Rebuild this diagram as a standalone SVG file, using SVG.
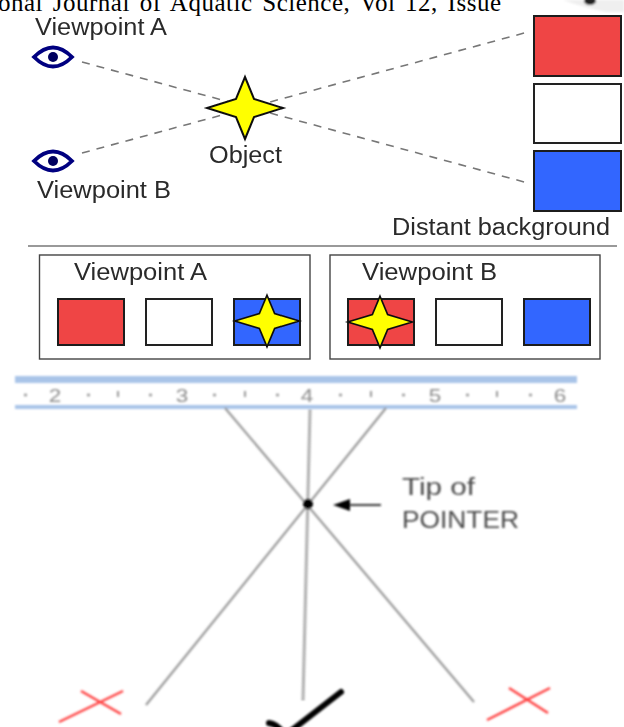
<svg xmlns="http://www.w3.org/2000/svg" width="624" height="727" viewBox="0 0 624 727">
<style>
.s{font-family:"Liberation Sans",Arial,sans-serif;fill:#2b2b2b;font-size:23px}
.p{font-family:"Liberation Sans",Arial,sans-serif;fill:#4a4a4a;font-size:23px}
.dash{fill:none;stroke:#777;stroke-width:1.6;stroke-dasharray:8 7}
.gl{fill:none;stroke:#999;stroke-width:2.200}
.r{fill:#ef4444;stroke:#1a1a1a;stroke-width:2}
.w{fill:#fff;stroke:#222;stroke-width:2}
.b{fill:#3366ff;stroke:#1a1a1a;stroke-width:2}
.box{fill:#fff;stroke:#444;stroke-width:1.4}
.star{fill:#ffff00;stroke:#111;stroke-width:2}
.eye{fill:#fff;stroke:#000080;stroke-width:3.8}
.ru{font-family:"Liberation Sans",Arial,sans-serif;fill:#8c8c8c;font-size:18px;text-anchor:middle}
.x{stroke:#ff4040;stroke-width:2.400;fill:none}
</style>
<defs>
<filter id="bl" x="-5%" y="-5%" width="110%" height="110%"><feGaussianBlur stdDeviation="0.55"/></filter>
<filter id="bl2" x="-5%" y="-5%" width="110%" height="110%"><feGaussianBlur stdDeviation="0.9"/></filter>
<path id="st" d="M0-31 9-9 38 0 9 9 0 31-9 9-38 0-9-9Z"/>
</defs>
<rect width="624" height="727" fill="#fff"/>
<text id="header" x="-2" y="11" font-family="'Liberation Serif','Times New Roman',serif" font-size="25px" textLength="503" lengthAdjust="spacing" word-spacing="3" fill="#000">onal Journal of Aquatic Science, Vol 12, Issue</text>
<g id="corner" filter="url(#bl2)"><path d="M563 0H624V12H606Q585 8 563 0Z" fill="#efefef"/><ellipse cx="590" cy="1" rx="6" ry="4" fill="#222"/></g>
<g filter="url(#bl)">
<g id="connectors"><path class="dash" d="M82 62 528 183"/><path class="dash" d="M82 153 528 32"/></g>
<g id="viewpoint-a"><text class="s" x="35" y="35" textLength="132" lengthAdjust="spacingAndGlyphs">Viewpoint A</text><path class="eye" d="M34 57Q53 38 72 57 53 76 34 57Z"/><circle cx="53" cy="57" r="5" fill="#000060"/></g>
<g id="viewpoint-b"><text class="s" x="37" y="198" textLength="134" lengthAdjust="spacingAndGlyphs">Viewpoint B</text><path class="eye" d="M34 161Q53 142 72 161 53 180 34 161Z"/><circle cx="53" cy="161" r="5" fill="#000060"/></g>
<g id="object"><use href="#st" class="star" transform="translate(245 108)"/><text class="s" x="209" y="163" textLength="73" lengthAdjust="spacingAndGlyphs">Object</text></g>
<g id="background"><rect class="r" x="534" y="16" width="87" height="60"/><rect class="w" x="534" y="84" width="87" height="59"/><rect class="b" x="534" y="151" width="87" height="60"/><text class="s" x="392" y="235" textLength="218" lengthAdjust="spacingAndGlyphs">Distant background</text></g>
<path d="M28 246H617" stroke="#777" stroke-width="1.6"/>
<g id="panel-a"><rect class="box" x="39.500" y="255" width="270.500" height="104"/><text class="s" x="74" y="280" textLength="133" lengthAdjust="spacingAndGlyphs">Viewpoint A</text><rect class="r" x="58" y="299" width="66" height="46"/><rect class="w" x="146" y="299" width="66" height="46"/><rect class="b" x="234" y="299" width="66" height="46"/><use href="#st" class="star" transform="translate(267 321) scale(.85 .83)"/></g>
<g id="panel-b"><rect class="box" x="330" y="255" width="270" height="104"/><text class="s" x="362" y="280" textLength="135" lengthAdjust="spacingAndGlyphs">Viewpoint B</text><rect class="r" x="348" y="299" width="66" height="46"/><rect class="w" x="436" y="299" width="66" height="46"/><rect class="b" x="524" y="299" width="66" height="46"/><use href="#st" class="star" transform="translate(380 322) scale(.85 .83)"/></g>
</g>
<g filter="url(#bl2)">
<g id="ruler"><rect x="15" y="376" width="562" height="7" fill="#a9c4e8"/><rect x="15" y="405" width="562" height="4" fill="#a9c4e8"/>
<text class="ru" transform="translate(55 402) scale(1.25 1)">2</text><text class="ru" transform="translate(182 402) scale(1.25 1)">3</text><text class="ru" transform="translate(307 402) scale(1.25 1)">4</text><text class="ru" transform="translate(435 402) scale(1.25 1)">5</text><text class="ru" transform="translate(560 402) scale(1.25 1)">6</text>
<path d="M118 391v6M245 391v6M371 391v6M497 391v6" stroke="#999" stroke-width="2"/>
<path d="M24 395h3M87 395h3M149 395h3M213 395h3M276 395h3M339 395h3M402 395h3M466 395h3M529 395h3" stroke="#999" stroke-width="2.500"/></g>
<g id="pointer-lines"><path class="gl" d="M225 408 474 702M386 408 146 705"/><path d="M310 410 303 700" fill="none" stroke="#888" stroke-width="3" stroke-dasharray="2 1"/></g>
<g id="pointer"><circle cx="308" cy="504" r="5" fill="#000"/><path d="M381 505H350" stroke="#222" stroke-width="1.8"/><path d="M333 505 350 499V511Z" fill="#000"/><text class="p" x="402" y="495" textLength="73" lengthAdjust="spacingAndGlyphs">Tip of</text><text class="p" x="402" y="528" textLength="117" lengthAdjust="spacingAndGlyphs">POINTER</text></g>
<g id="crosses"><path class="x" d="M59 722 123 691M81 691 121 714M487 720 550 688M509 688 548 713"/></g>
<g id="check"><path d="M269 723Q278 724 285 736M292 730 341 692" fill="none" stroke="#000" stroke-width="6" stroke-linecap="round"/></g>
</g>
</svg>
